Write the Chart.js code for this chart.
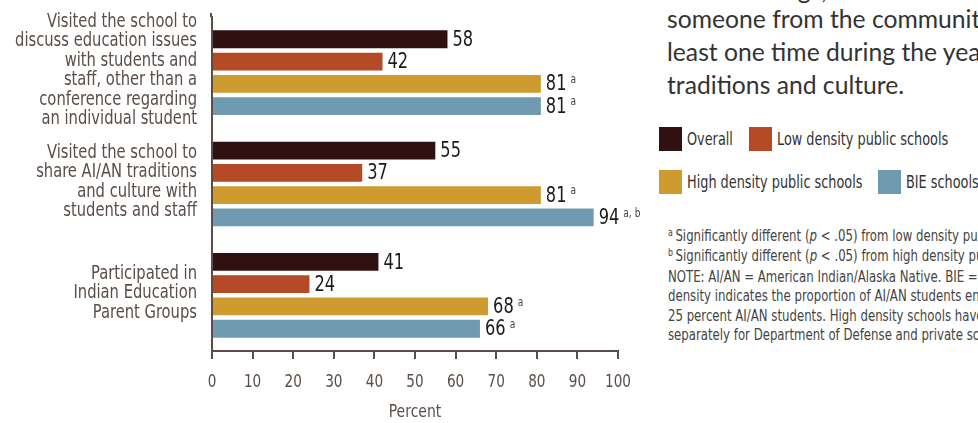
<!DOCTYPE html>
<html>
<head>
<meta charset="utf-8">
<script src="https://cdn.jsdelivr.net/npm/chart.js@4.4.0/dist/chart.umd.min.js"></script>
<style>
  body { margin: 0; width: 978px; height: 423px; overflow: hidden; background: #fff; position: relative; }
  #chartBox { position: absolute; left: 0; top: 0; width: 655px; height: 423px; }
  .narrow { font-family: 'DejaVu Sans Condensed', 'Liberation Sans Narrow', sans-serif; }
  #intro { position: absolute; left: 667px; top: -31px; font-family: Lato, 'Open Sans', sans-serif; font-size: 24.7px; line-height: 33px; color: #333; white-space: nowrap; }
  #intro .cut { position: relative; top: 4px; }
  #legend { position: absolute; left: 659px; top: 127px; font-size: 17px; color: #333; }
  .row { display: flex; align-items: center; height: 24px; margin-bottom: 19px; white-space: nowrap; }
  .item { display: flex; align-items: center; margin-right: 16px; }
  .sw { width: 23px; height: 24px; margin-right: 5px; }
  .lbl { display: inline-block; transform: scaleX(0.84); transform-origin: left center; }
  #notes { position: absolute; left: 668px; top: 227px; font-size: 15px; line-height: 19.4px; color: #444; white-space: nowrap; transform: scaleX(0.87); transform-origin: left top; }
  #notes .s { font-size: 10px; position: relative; top: -5px; margin-right: 3px; }
</style>
</head>
<body>
<div id="chartBox"><canvas id="chart" width="655" height="423"></canvas></div>
<div id="intro">
  <div class="cut">In BIE settings, schools were mostly visited by</div>
  someone from the community at<br>
  least one time during the year to share AI/AN<br>
  traditions and culture.
</div>
<div id="legend" class="narrow"></div>
<div id="notes" class="narrow">
  <span class="s">a</span>Significantly different (<i>p</i> &lt; .05) from low density public schools.<br>
  <span class="s">b</span>Significantly different (<i>p</i> &lt; .05) from high density public schools.<br>
  NOTE: AI/AN = American Indian/Alaska Native. BIE = Bureau of Indian Education. Low<br>
  density indicates the proportion of AI/AN students enrolled in the school is less than<br>
  25 percent AI/AN students. High density schools have 25 percent or more AI/AN students.<br>
  separately for Department of Defense and private schools because of small sample sizes.
</div>
<script>
// categories (multi-line labels)
const categories = [
    ["Visited the school to", "discuss education issues", "with students and", "staff, other than a", "conference regarding", "an individual student"],
    ["Visited the school to", "share AI/AN traditions", "and culture with", "students and staff"],
    ["Participated in", "Indian Education", "Parent Groups"]
];

const seriesNames = ["Overall", "Low density public schools", "High density public schools", "BIE schools"];

const overall = [58, 55, 41];
const lowDensity = [42, 37, 24];
const highDensity = [81, 81, 68];
const bieSchools = [81, 94, 66];

// significance marks next to the values
const overallNotes = ["", "", ""];
const lowNotes = ["", "", ""];
const highNotes = ["a", "a", "a"];
const bieNotes = ["a", "a, b", "a"];

const xMin = 0;
const xMax = 100;
const xStep = 10;
const xTitle = "Percent";

const seriesColors = ["#311011", "#b54b26", "#cd9b2f", "#6f9ab0"];
const inkColor = "#5b4d48";
const narrowFont = "'DejaVu Sans Condensed', 'Liberation Sans Narrow', sans-serif";
const squeeze = 0.84;   // horizontal squeeze to get a condensed face

const seriesValues = [overall, lowDensity, highDensity, bieSchools];
const seriesNotes = [overallNotes, lowNotes, highNotes, bieNotes];

// legend, two rows of two
const legend = document.getElementById("legend");
[[0, 1], [2, 3]].forEach(pair => {
    const row = document.createElement("div");
    row.className = "row";
    pair.forEach(i => {
        const item = document.createElement("div");
        item.className = "item";
        item.innerHTML = '<div class="sw" style="background:' + seriesColors[i] + '"></div><span class="lbl">' + seriesNames[i] + '</span>';
        row.appendChild(item);
    });
    legend.appendChild(row);
});
// squeeze the labels, then give back the width the transform saved
document.querySelectorAll("#legend .lbl").forEach(span => {
    span.style.marginRight = (-span.offsetWidth * 0.16) + "px";
});

function narrowText(ctx, text, x, y) {
    ctx.save();
    ctx.translate(x, y);
    ctx.scale(squeeze, 1);
    ctx.fillText(text, 0, 0);
    ctx.restore();
}

// condensed tick labels, placed from the scales' own tick pixels
const axisText = {
    id: "axisText",
    afterDraw(chart) {
        const ctx = chart.ctx;
        const ys = chart.scales.y;
        const xs = chart.scales.x;
        ctx.save();
        ctx.fillStyle = inkColor;
        ctx.textBaseline = "middle";

        ctx.font = "19.5px " + narrowFont;
        ctx.textAlign = "right";
        const lh = 19.5;
        ys.ticks.forEach((t, i) => {
            const lines = chart.data.labels[i];
            const top = ys.getPixelForTick(i) - 2 - (lines.length - 1) * lh / 2;
            lines.forEach((ln, k) => narrowText(ctx, ln, ys.right - 15, top + k * lh));
        });

        ctx.font = "18px " + narrowFont;
        ctx.textAlign = "center";
        xs.ticks.forEach((t, i) => {
            narrowText(ctx, String(t.value), xs.getPixelForTick(i), xs.top + 31);
        });

        ctx.font = "18.5px " + narrowFont;
        narrowText(ctx, xTitle, (xs.left + xs.right) / 2, xs.top + 61);

        // axis line runs a bit above the plot
        const a = chart.chartArea;
        ctx.strokeStyle = inkColor;
        ctx.lineWidth = 2;
        ctx.beginPath();
        ctx.moveTo(a.left - 1, a.top - 4);
        ctx.lineTo(a.left - 1, a.top);
        ctx.stroke();
        ctx.restore();
    }
};

const valueLabels = {
    id: "valueLabels",
    afterDatasetsDraw(chart) {
        const ctx = chart.ctx;
        ctx.save();
        ctx.textAlign = "left";
        ctx.textBaseline = "middle";
        chart.data.datasets.forEach((ds, i) => {
            const meta = chart.getDatasetMeta(i);
            meta.data.forEach((bar, j) => {
                const text = String(ds.data[j]);
                const x = bar.x + 5;
                ctx.font = "21.5px " + narrowFont;
                ctx.fillStyle = "#1a1a1a";
                const w = ctx.measureText(text).width * squeeze;
                narrowText(ctx, text, x, bar.y + 1);
                const note = seriesNotes[i][j];
                if (note) {
                    ctx.font = "12px " + narrowFont;
                    ctx.fillStyle = "#444";
                    narrowText(ctx, note, x + w + 4, bar.y - 4);
                }
            });
        });
        ctx.restore();
    }
};

new Chart(document.getElementById("chart"), {
    type: "bar",
    data: {
        labels: categories,
        datasets: seriesValues.map((vals, i) => ({
            label: seriesNames[i],
            data: vals,
            backgroundColor: seriesColors[i],
            categoryPercentage: 0.8,
            barPercentage: 0.8
        }))
    },
    options: {
        indexAxis: "y",
        responsive: false,
        animation: false,
        devicePixelRatio: 1,
        layout: { padding: { top: 17, right: 37, left: 0, bottom: 0 } },
        plugins: {
            legend: { display: false },
            tooltip: { enabled: false }
        },
        scales: {
            x: {
                min: xMin,
                max: xMax,
                ticks: { stepSize: xStep, display: false },
                grid: {
                    display: true,
                    drawOnChartArea: false,
                    drawTicks: true,
                    tickLength: 8,
                    color: inkColor,
                    lineWidth: 2
                },
                border: { display: true, color: inkColor, width: 2 },
                afterFit(scale) { scale.height = 72; }
            },
            y: {
                ticks: { display: false, autoSkip: false },
                grid: { display: false, drawTicks: false },
                border: { display: true, color: inkColor, width: 2 },
                afterFit(scale) {
                    scale.width = 212;
                    scale.paddingTop = 0;
                    scale.paddingBottom = 0;
                }
            }
        }
    },
    plugins: [valueLabels, axisText]
});
</script>
</body>
</html>
